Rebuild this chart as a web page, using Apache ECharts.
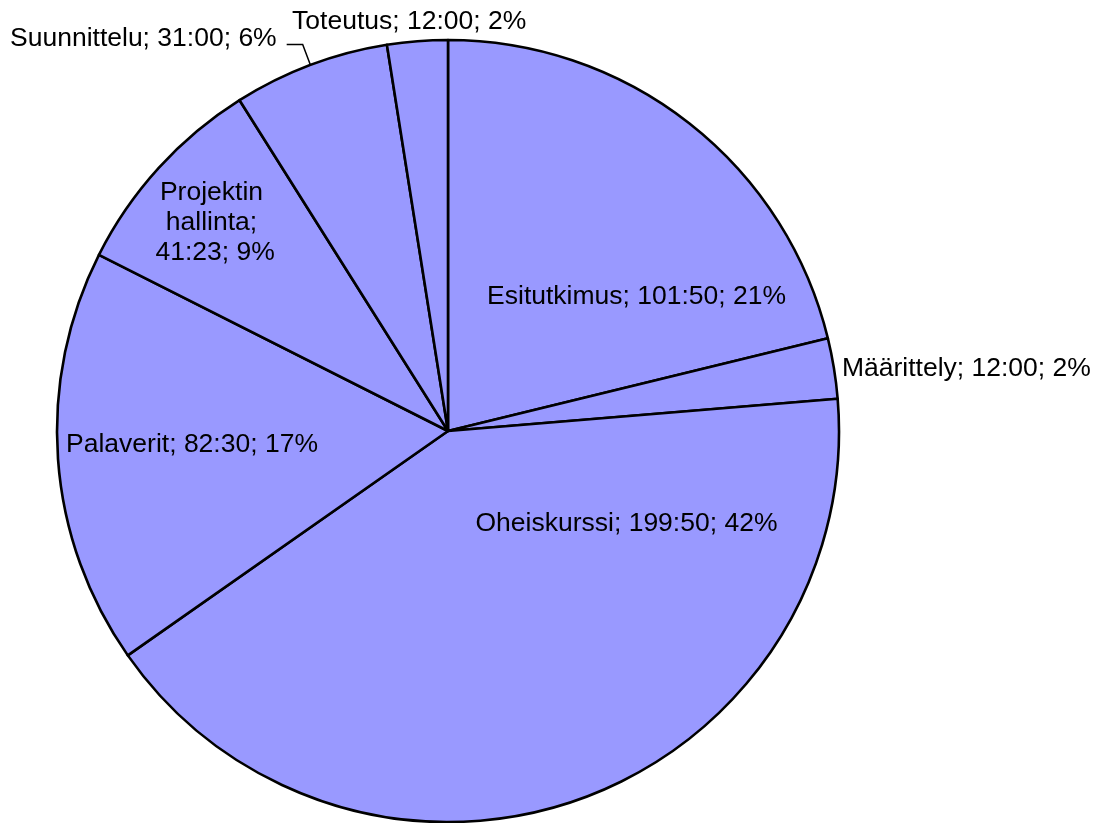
<!DOCTYPE html>
<html>
<head>
<meta charset="utf-8">
<script src="https://cdn.jsdelivr.net/npm/echarts@6/dist/echarts.min.js"></script>
<style>
html, body { margin: 0; padding: 0; background: #fff; }
#main { width: 1096px; height: 823px; }
</style>
</head>
<body>
<div id="main"></div>
<script>
// hours as h:mm
var names = ['Esitutkimus', 'Määrittely', 'Oheiskurssi', 'Palaverit', 'Projektin hallinta', 'Suunnittelu', 'Toteutus'];
var times = ['101:50', '12:00', '199:50', '82:30', '41:23', '31:00', '12:00'];

// label placement per slice
var labelPos = ['inside', 'outside', 'inside', 'inside', 'inside', 'outside', 'outside'];
var labelShift = [[66, 22], [1, 1], [111, -94], [-58, -1], [-86, -75], [-2, -6], [114, -20]];

function toMinutes(t) {
	var p = t.split(':');
	return parseInt(p[0], 10) * 60 + parseInt(p[1], 10);
}

var minutes = times.map(toMinutes);
var total = minutes.reduce(function (a, b) { return a + b; }, 0);

var chartDom = document.getElementById('main');
var myChart = echarts.init(chartDom);

var data = names.map(function (n, i) {
	var item = {
		name: n,
		value: minutes[i],
		label: { position: labelPos[i] },
		labelLine: { show: false, length: 0, length2: 0 }
	};
	if (n === 'Projektin hallinta') {
		item.label.width = 125;
		item.label.overflow = 'break';
	}
	if (n === 'Määrittely') {
		item.labelLine.length = 2;
	}
	if (n === 'Suunnittelu') {
		item.labelLine = { show: true, length: 22, length2: 16 };
		item.label.distanceToLabelLine = 8;
	}
	return item;
});

var option = {
	animation: false,
	series: [{
		type: 'pie',
		center: [448, 431],
		radius: 391,
		startAngle: 90,
		clockwise: true,
		avoidLabelOverlap: false,
		silent: true,
		data: data,
		itemStyle: {
			color: '#9999FF',
			borderColor: '#000',
			borderWidth: 2.6
		},
		label: {
			color: '#000',
			fontFamily: 'Arial, "Liberation Sans", sans-serif',
			fontSize: 26.5,
			lineHeight: 30,
			formatter: function (p) {
				return p.name + '; ' + times[p.dataIndex] + '; ' + Math.round(p.value / total * 100) + '%';
			}
		},
		labelLine: {
			lineStyle: { color: '#000', width: 1.5 },
			smooth: false
		},
		labelLayout: function (p) {
			var s = labelShift[p.dataIndex];
			return { dx: s[0], dy: s[1] };
		},
		emphasis: { disabled: true }
	}]
};

option && myChart.setOption(option);
</script>
</body>
</html>
